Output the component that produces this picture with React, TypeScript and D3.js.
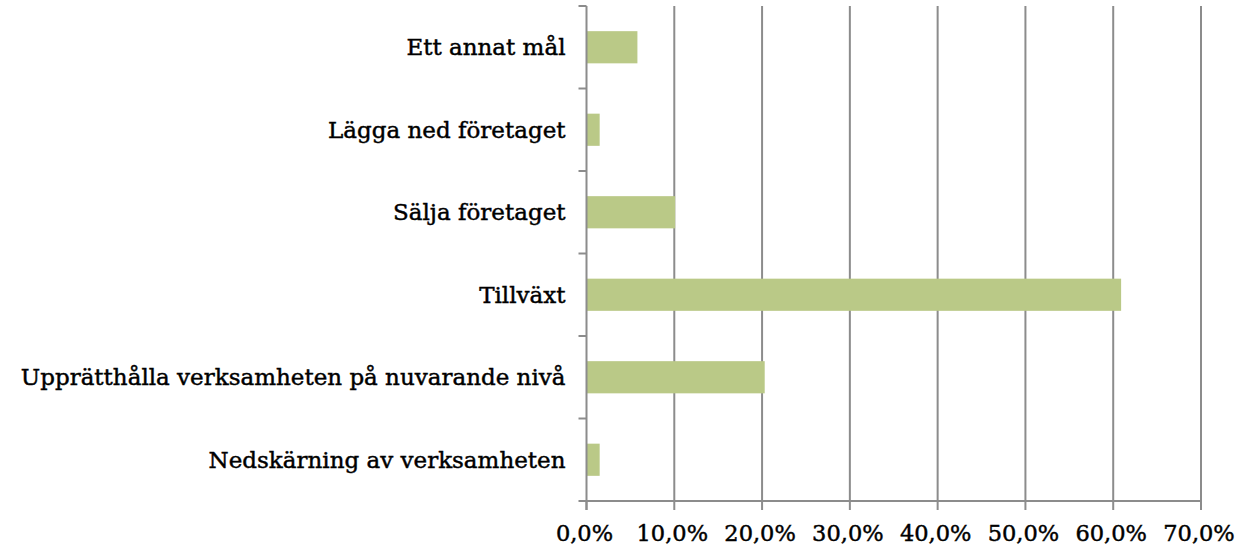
import React, { useRef, useEffect } from 'react';
import * as d3 from 'd3';

const categories = [
  'Ett annat mål',
  'Lägga ned företaget',
  'Sälja företaget',
  'Tillväxt',
  'Upprätthålla verksamheten på nuvarande nivå',
  'Nedskärning av verksamheten',
];
const values = [5.8, 1.5, 10.1, 60.9, 20.3, 1.5];
const xTicks = [0, 10, 20, 30, 40, 50, 60, 70];

const App = () => {
  const svgRef = useRef<SVGSVGElement>(null);

  useEffect(() => {
    const svg = d3.select(svgRef.current);
    svg.selectAll('*').remove();

    const width = 1242;
    const height = 549;
    const marginLeft = 586.5;
    const marginRight = 41;
    const marginTop = 6;
    const marginBottom = 48;
    const font = "'DejaVu Serif', serif";

    const x = d3.scaleLinear()
      .domain([0, 70])
      .range([marginLeft, width - marginRight]);

    const y = d3.scaleBand()
      .domain(categories)
      .range([marginTop, height - marginBottom])
      .paddingInner(0.61)
      .paddingOuter(0.305);

    // gridlines
    svg.append('g')
      .selectAll('line')
      .data(xTicks.slice(1))
      .join('line')
      .attr('x1', d => x(d))
      .attr('x2', d => x(d))
      .attr('y1', marginTop)
      .attr('y2', height - marginBottom)
      .attr('stroke', '#8c8c8c')
      .attr('stroke-width', 2);

    // bars
    svg.append('g')
      .selectAll('rect')
      .data(values)
      .join('rect')
      .attr('x', x(0))
      .attr('y', (d, i) => y(categories[i])!)
      .attr('width', d => x(d) - x(0))
      .attr('height', y.bandwidth())
      .attr('fill', '#bac987');

    // y axis
    const yAxis = svg.append('g');
    yAxis.append('line')
      .attr('x1', x(0)).attr('x2', x(0))
      .attr('y1', marginTop).attr('y2', height - marginBottom + 9)
      .attr('stroke', '#8c8c8c').attr('stroke-width', 2);
    const step = (height - marginBottom - marginTop) / categories.length;
    yAxis.selectAll('line.tick')
      .data(d3.range(categories.length))
      .join('line')
      .attr('class', 'tick')
      .attr('x1', x(0) - 8).attr('x2', x(0))
      .attr('y1', i => marginTop + i * step)
      .attr('y2', i => marginTop + i * step)
      .attr('stroke', '#8c8c8c').attr('stroke-width', 2);
    yAxis.selectAll('text')
      .data(categories)
      .join('text')
      .attr('x', x(0) - 21)
      .attr('y', d => y(d)! + y.bandwidth() / 2)
      .attr('dy', '0.35em')
      .attr('text-anchor', 'end')
      .attr('font-family', font)
      .attr('font-size', 23)
      .attr('fill', '#000')
      .attr('stroke', '#000')
      .attr('stroke-width', 0.45)
      .text(d => d);

    // x axis
    const xAxis = svg.append('g');
    xAxis.append('line')
      .attr('x1', x(0) - 8).attr('x2', x(70))
      .attr('y1', height - marginBottom).attr('y2', height - marginBottom)
      .attr('stroke', '#8c8c8c').attr('stroke-width', 2);
    xAxis.selectAll('line.tick')
      .data(xTicks)
      .join('line')
      .attr('class', 'tick')
      .attr('x1', d => x(d)).attr('x2', d => x(d))
      .attr('y1', height - marginBottom)
      .attr('y2', height - marginBottom + 9)
      .attr('stroke', '#8c8c8c').attr('stroke-width', 2);
    xAxis.selectAll('text')
      .data(xTicks)
      .join('text')
      .attr('x', d => x(d) - 2)
      .attr('y', 541)
      .attr('text-anchor', 'middle')
      .attr('font-family', font)
      .attr('font-size', 22.5)
      .attr('fill', '#000')
      .attr('stroke', '#000')
      .attr('stroke-width', 0.45)
      .text(d => d3.format('.1f')(d).replace('.', ',') + '%');
  }, []);

  return (
    <svg
      ref={svgRef}
      width={1242}
      height={549}
      style={{ position: 'absolute', left: 0, top: 0, background: '#fff' }}
    />
  );
};

export default App;
